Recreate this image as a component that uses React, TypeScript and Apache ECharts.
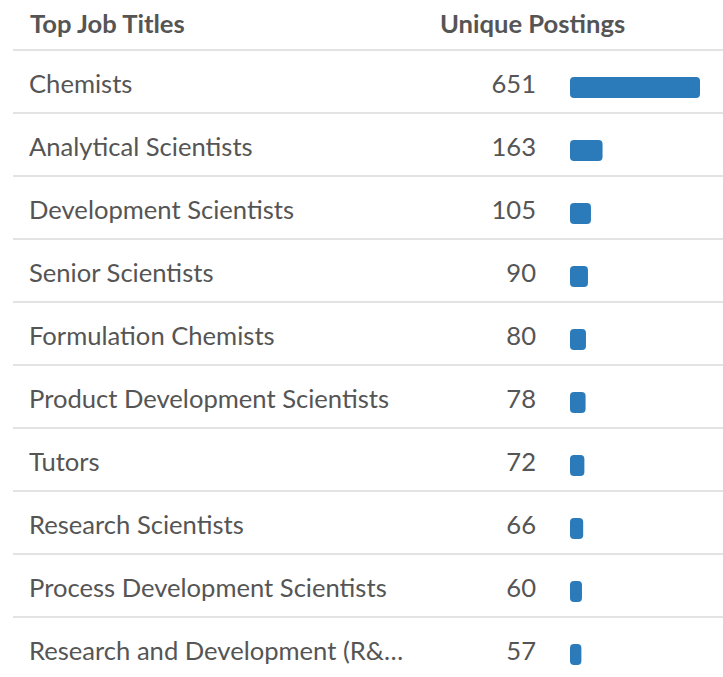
import React, { useEffect, useRef } from "react";
import * as echarts from "echarts";

const titles = [
  "Chemists",
  "Analytical Scientists",
  "Development Scientists",
  "Senior Scientists",
  "Formulation Chemists",
  "Product Development Scientists",
  "Tutors",
  "Research Scientists",
  "Process Development Scientists",
  "Research and Development (R&…",
];
const postings = [651, 163, 105, 90, 80, 78, 72, 66, 60, 57];
const headers = ["Top Job Titles", "Unique Postings"];

const FONT = "Lato, 'Noto Sans', sans-serif";
const TEXT = "#555555";
const FS = 25.6;

export default function App() {
  const ref = useRef<HTMLDivElement>(null);
  useEffect(() => {
    if (!ref.current) return;
    const chart = echarts.init(ref.current, undefined, { renderer: "svg" });
    chart.setOption({
      animation: false,
      backgroundColor: "#ffffff",
      title: [
        {
          text: headers[0],
          left: 25,
          top: 5,
          textStyle: { fontFamily: FONT, fontSize: FS, fontWeight: "bold", color: TEXT },
        },
        {
          text: headers[1],
          left: 435,
          top: 5,
          textStyle: { fontFamily: FONT, fontSize: FS, fontWeight: "bold", color: TEXT },
        },
      ],
      grid: [
        { left: 13, width: 710, top: 50, height: 630 },
        { left: 570, width: 130, top: 56, height: 630 },
        { left: 13, width: 710, top: 51, height: 630 },
      ],
      xAxis: [
        { gridIndex: 0, type: "value", show: false, min: 0, max: 1 },
        { gridIndex: 1, type: "value", show: false, min: 0, max: 651 },
        { gridIndex: 2, type: "value", show: false, min: 0, max: 1 },
      ],
      yAxis: [
        {
          gridIndex: 0,
          type: "category",
          inverse: true,
          data: titles,
          axisLine: { show: false },
          axisTick: { show: false },
          axisLabel: { show: false },
          splitLine: {
            show: true,
            showMaxLine: false,
            lineStyle: { color: "#e3e3e3", width: 2 },
          },
        },
        {
          gridIndex: 1,
          type: "category",
          inverse: true,
          data: titles,
          show: false,
        },
        {
          gridIndex: 2,
          type: "category",
          inverse: true,
          data: titles,
          axisLine: { show: false },
          axisTick: { show: false },
          splitLine: { show: false },
          axisLabel: {
            inside: true,
            margin: 16,
            align: "left",
            fontFamily: FONT,
            fontSize: FS,
            color: TEXT,
          },
        },
      ],
      series: [
        {
          type: "bar",
          xAxisIndex: 1,
          yAxisIndex: 1,
          data: postings,
          barWidth: 21,
          itemStyle: { color: "#2b7bba", borderRadius: 4 },
          label: {
            show: true,
            position: "left",
            distance: 34,
            offset: [0, -5],
            fontFamily: FONT,
            fontSize: FS,
            color: TEXT,
          },
        },
      ],
    });
    return () => chart.dispose();
  }, []);
  return (
    <div
      style={{
        position: "absolute",
        left: 0,
        top: 0,
        width: 723,
        height: 677,
        overflow: "hidden",
      }}
    >
      <div ref={ref} style={{ width: 723, height: 720 }} />
    </div>
  );
}
